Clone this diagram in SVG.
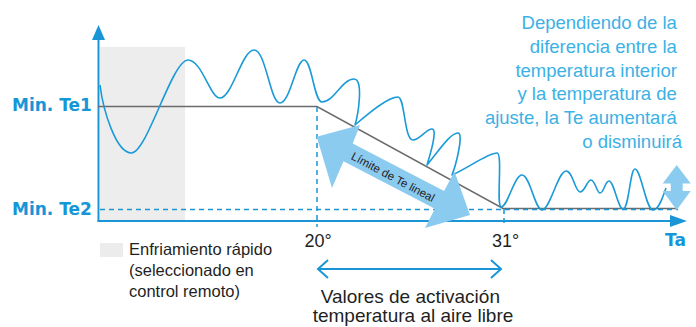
<svg xmlns="http://www.w3.org/2000/svg" width="696" height="327" viewBox="0 0 696 327">
<defs>
<style>
.axis{stroke:#1a96d6;stroke-width:2;fill:none}
.axfill{fill:#1a96d6}
.dash{stroke:#1a96d6;stroke-width:1.5;stroke-dasharray:5 4;fill:none}
.ref{stroke:#6b6b6b;stroke-width:1.5;fill:none}
.curve{stroke:#1a9ad8;stroke-width:1.6;fill:none;stroke-linejoin:round}
.lbl{font-family:"DejaVu Sans",sans-serif;font-weight:bold;font-size:17px;fill:#1496d8}
.txt{font-family:"Liberation Sans",Arial,sans-serif;fill:#1f1f1f}
.note{font-family:"Liberation Sans",Arial,sans-serif;font-size:18.5px;fill:#3cb1e6}
.big{fill:#8ccbf0}
</style>
</defs>
<g id="rapid-cooling-zone">
<rect x="100" y="47" width="85" height="173" fill="#ededed"/>
</g>
<g id="axes">
<line class="axis" x1="98.5" y1="222" x2="98.5" y2="38"/>
<polygon class="axfill" points="98.5,25 92,40 105,40"/>
<line class="axis" x1="97.5" y1="221" x2="672" y2="221"/>
<polygon class="axfill" points="687,221 670,215 670,227"/>
<text class="lbl" x="686" y="246" text-anchor="end">Ta</text>
</g>
<g id="reference-lines">
<path class="ref" d="M98,106.5 H317 L503,208.5 H677"/>
<line class="dash" x1="100" y1="209.5" x2="678" y2="209.5"/>
<line class="dash" x1="317" y1="107" x2="317" y2="227"/>
<line class="dash" x1="504" y1="209" x2="504" y2="227"/>
</g>
<g id="labels-y">
<text class="lbl" x="12" y="111">Min. Te1</text>
<text class="lbl" x="12" y="215">Min. Te2</text>
</g>
<g id="temperature-curve">
<path class="curve" d="M100,85 C103,110 116,153 131.5,153 C147,153 172,60 188,60 C202,60 210,98 220,98 C232,98 242,50 254,50 C266,50 270,103 280,103 C290,103 296,60 304,60 C312,60 314,102 322,102 C334,102 342,79 354,79 C364,79 358,115 355,125 C370,112 388,97 398,97 C405,97 404,140 413,140 C420,140 426,129 432,129 C438,129 430,155 427,165 C438,152 450,133 458,133 C464,133 456,165 452,175 C468,168 488,153 497,153 C503,153 496,205 501,207 C508,207 514,175 522,175 C530,175 535,210 542,210 C550,210 558,171 566,171 C573,171 575,192 580,192 C585,192 587,180 591,180 C595,180 597,193 600,193 C604,193 605,181 609,181 C614,181 618,209 623,209 C629,209 630,169 635,169 C641,169 646,210 653,210 C659,210 663,196 666,188"/>
</g>
<g id="linear-limit-arrow">
<polygon class="big" points="316.7,136.7 360,125 352.7,143.5 444.1,191 454.5,171.5 470,215 425,228 434.9,208.7 343.5,161.2 332,188"/>
<text class="txt" x="393" y="177" font-size="11.5" fill="#1b2a38" text-anchor="middle" dominant-baseline="central" transform="rotate(28 393 177)">Límite de Te lineal</text>
</g>
<g id="up-down-arrow">
<polygon class="big" points="676.7,165 690.7,183.5 682.7,183.5 682.7,191 690.7,191 676.7,210 662.7,191 670.7,191 670.7,183.5 662.7,183.5"/>
</g>
<g id="note">
<text class="note" text-anchor="end">
<tspan x="682" y="29.3">Dependiendo de la</tspan>
<tspan x="682" y="53">diferencia entre la</tspan>
<tspan x="682" y="76.7">temperatura interior</tspan>
<tspan x="682" y="100.4">y la temperatura de</tspan>
<tspan x="682" y="124.1">ajuste, la Te aumentará</tspan>
<tspan x="682" y="147.8">o disminuirá</tspan>
</text>
</g>
<g id="ticks">
<text class="txt" x="318" y="247" font-size="18" text-anchor="middle">20°</text>
<text class="txt" x="505.5" y="247" font-size="18" text-anchor="middle">31°</text>
</g>
<g id="legend">
<rect x="100" y="243" width="23" height="14" fill="#ececec"/>
<text class="txt" font-size="16.5">
<tspan x="129" y="255">Enfriamiento rápido</tspan>
<tspan x="129" y="276">(seleccionado en</tspan>
<tspan x="129" y="297">control remoto)</tspan>
</text>
</g>
<g id="activation-range">
<line class="axis" x1="318" y1="269" x2="501" y2="269"/>
<polyline class="axis" points="328,260 318,269 328,278"/>
<polyline class="axis" points="491,260 501,269 491,278"/>
<text class="txt" font-size="19" text-anchor="middle">
<tspan x="413" y="303">Valores de activación</tspan>
<tspan x="413" y="322">temperatura al aire libre</tspan>
</text>
</g>
</svg>
